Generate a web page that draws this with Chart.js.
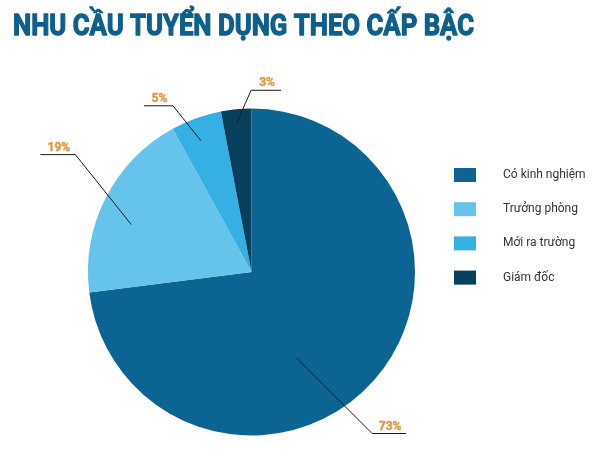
<!DOCTYPE html>
<html>
<head>
<meta charset="utf-8">
<script src="https://cdn.jsdelivr.net/npm/chart.js@4.4.1/dist/chart.umd.min.js"></script>
<style>
  html, body { margin: 0; padding: 0; background: #fff; }
  #wrap { width: 603px; height: 464px; position: relative; }
</style>
</head>
<body>
<div id="wrap"><canvas id="pie"></canvas></div>
<script>
const title = 'NHU CẦU TUYỂN DỤNG THEO CẤP BẬC';
const labels = ['Có kinh nghiệm', 'Trưởng phòng', 'Mới ra trường', 'Giám đốc'];
const values = [73, 19, 5, 3];
const colors = ['#0c6492', '#66c3eb', '#36b0e2', '#073f5c'];

// leader lines: where they start inside the slice (fraction of slice, fraction of radius)
// and how they bend out to the label [dx, dy, horizontal length]
const leaderAt = [0.58, 0.42, 0.43, 0.49];
const leaderR = [0.59, 0.79, 0.86, 0.92];
const leaderBend = [[76, 76, 34], [-56, -70, -35], [-28, -35, -29], [14, -32, 30]];

const extras = {
    id: 'extras',
    afterDraw(chart) {
        const ctx = chart.ctx;
        const meta = chart.getDatasetMeta(0);

        // title, squeezed and thickened like the condensed original
        ctx.save();
        ctx.font = 'bold 30px Roboto';
        ctx.fillStyle = '#0e5f8b';
        ctx.strokeStyle = '#0e5f8b';
        ctx.lineWidth = 1.3;
        ctx.lineJoin = 'round';
        ctx.textBaseline = 'alphabetic';
        const w = ctx.measureText(title).width;
        ctx.translate(13, 34.5);
        ctx.scale(461 / w, 1);
        ctx.fillText(title, 0, 0);
        ctx.strokeText(title, 0, 0);
        ctx.restore();

        // percentage labels with leader lines
        meta.data.forEach((arc, i) => {
            const p = arc.getProps(['x', 'y', 'startAngle', 'endAngle', 'outerRadius'], true);
            const a = p.startAngle + (p.endAngle - p.startAngle) * leaderAt[i];
            const r = p.outerRadius * leaderR[i];
            const x0 = p.x + Math.cos(a) * r;
            const y0 = p.y + Math.sin(a) * r;
            const [dx, dy, len] = leaderBend[i];
            const x1 = x0 + dx, y1 = y0 + dy, x2 = x1 + len;
            ctx.save();
            ctx.beginPath();
            ctx.moveTo(x0, y0);
            ctx.lineTo(x1, y1);
            ctx.lineTo(x2, y1);
            ctx.strokeStyle = '#1a1a1a';
            ctx.lineWidth = 1;
            ctx.stroke();
            ctx.font = 'bold 12px Roboto';
            ctx.fillStyle = '#e8953a';
            ctx.strokeStyle = '#e8953a';
            ctx.lineWidth = 0.4;
            ctx.textAlign = 'center';
            ctx.textBaseline = 'alphabetic';
            ctx.fillText(values[i] + '%', (x1 + x2) / 2 + 1, y1 - 4);
            ctx.strokeText(values[i] + '%', (x1 + x2) / 2 + 1, y1 - 4);
            ctx.restore();
        });

        // legend on the right
        ctx.save();
        ctx.font = '12px Roboto';
        ctx.textBaseline = 'middle';
        ctx.textAlign = 'left';
        labels.forEach((lab, i) => {
            const cy = 175 + i * 34.2;
            ctx.fillStyle = colors[i];
            ctx.fillRect(454, cy - 7, 22, 14);
            ctx.fillStyle = '#333';
            ctx.fillText(lab, 503, cy);
        });
        ctx.restore();
    }
};

const pie = new Chart(document.getElementById('pie'), {
    type: 'pie',
    data: {
        labels: labels,
        datasets: [{
            data: values,
            backgroundColor: colors,
            borderWidth: 0
        }]
    },
    options: {
        responsive: true,
        maintainAspectRatio: false,
        animation: false,
        layout: {
            padding: { top: 108.5, bottom: 28.5, left: 88, right: 188 }
        },
        plugins: {
            legend: { display: false },
            tooltip: { enabled: false }
        }
    },
    plugins: [extras]
});
</script>
</body>
</html>
